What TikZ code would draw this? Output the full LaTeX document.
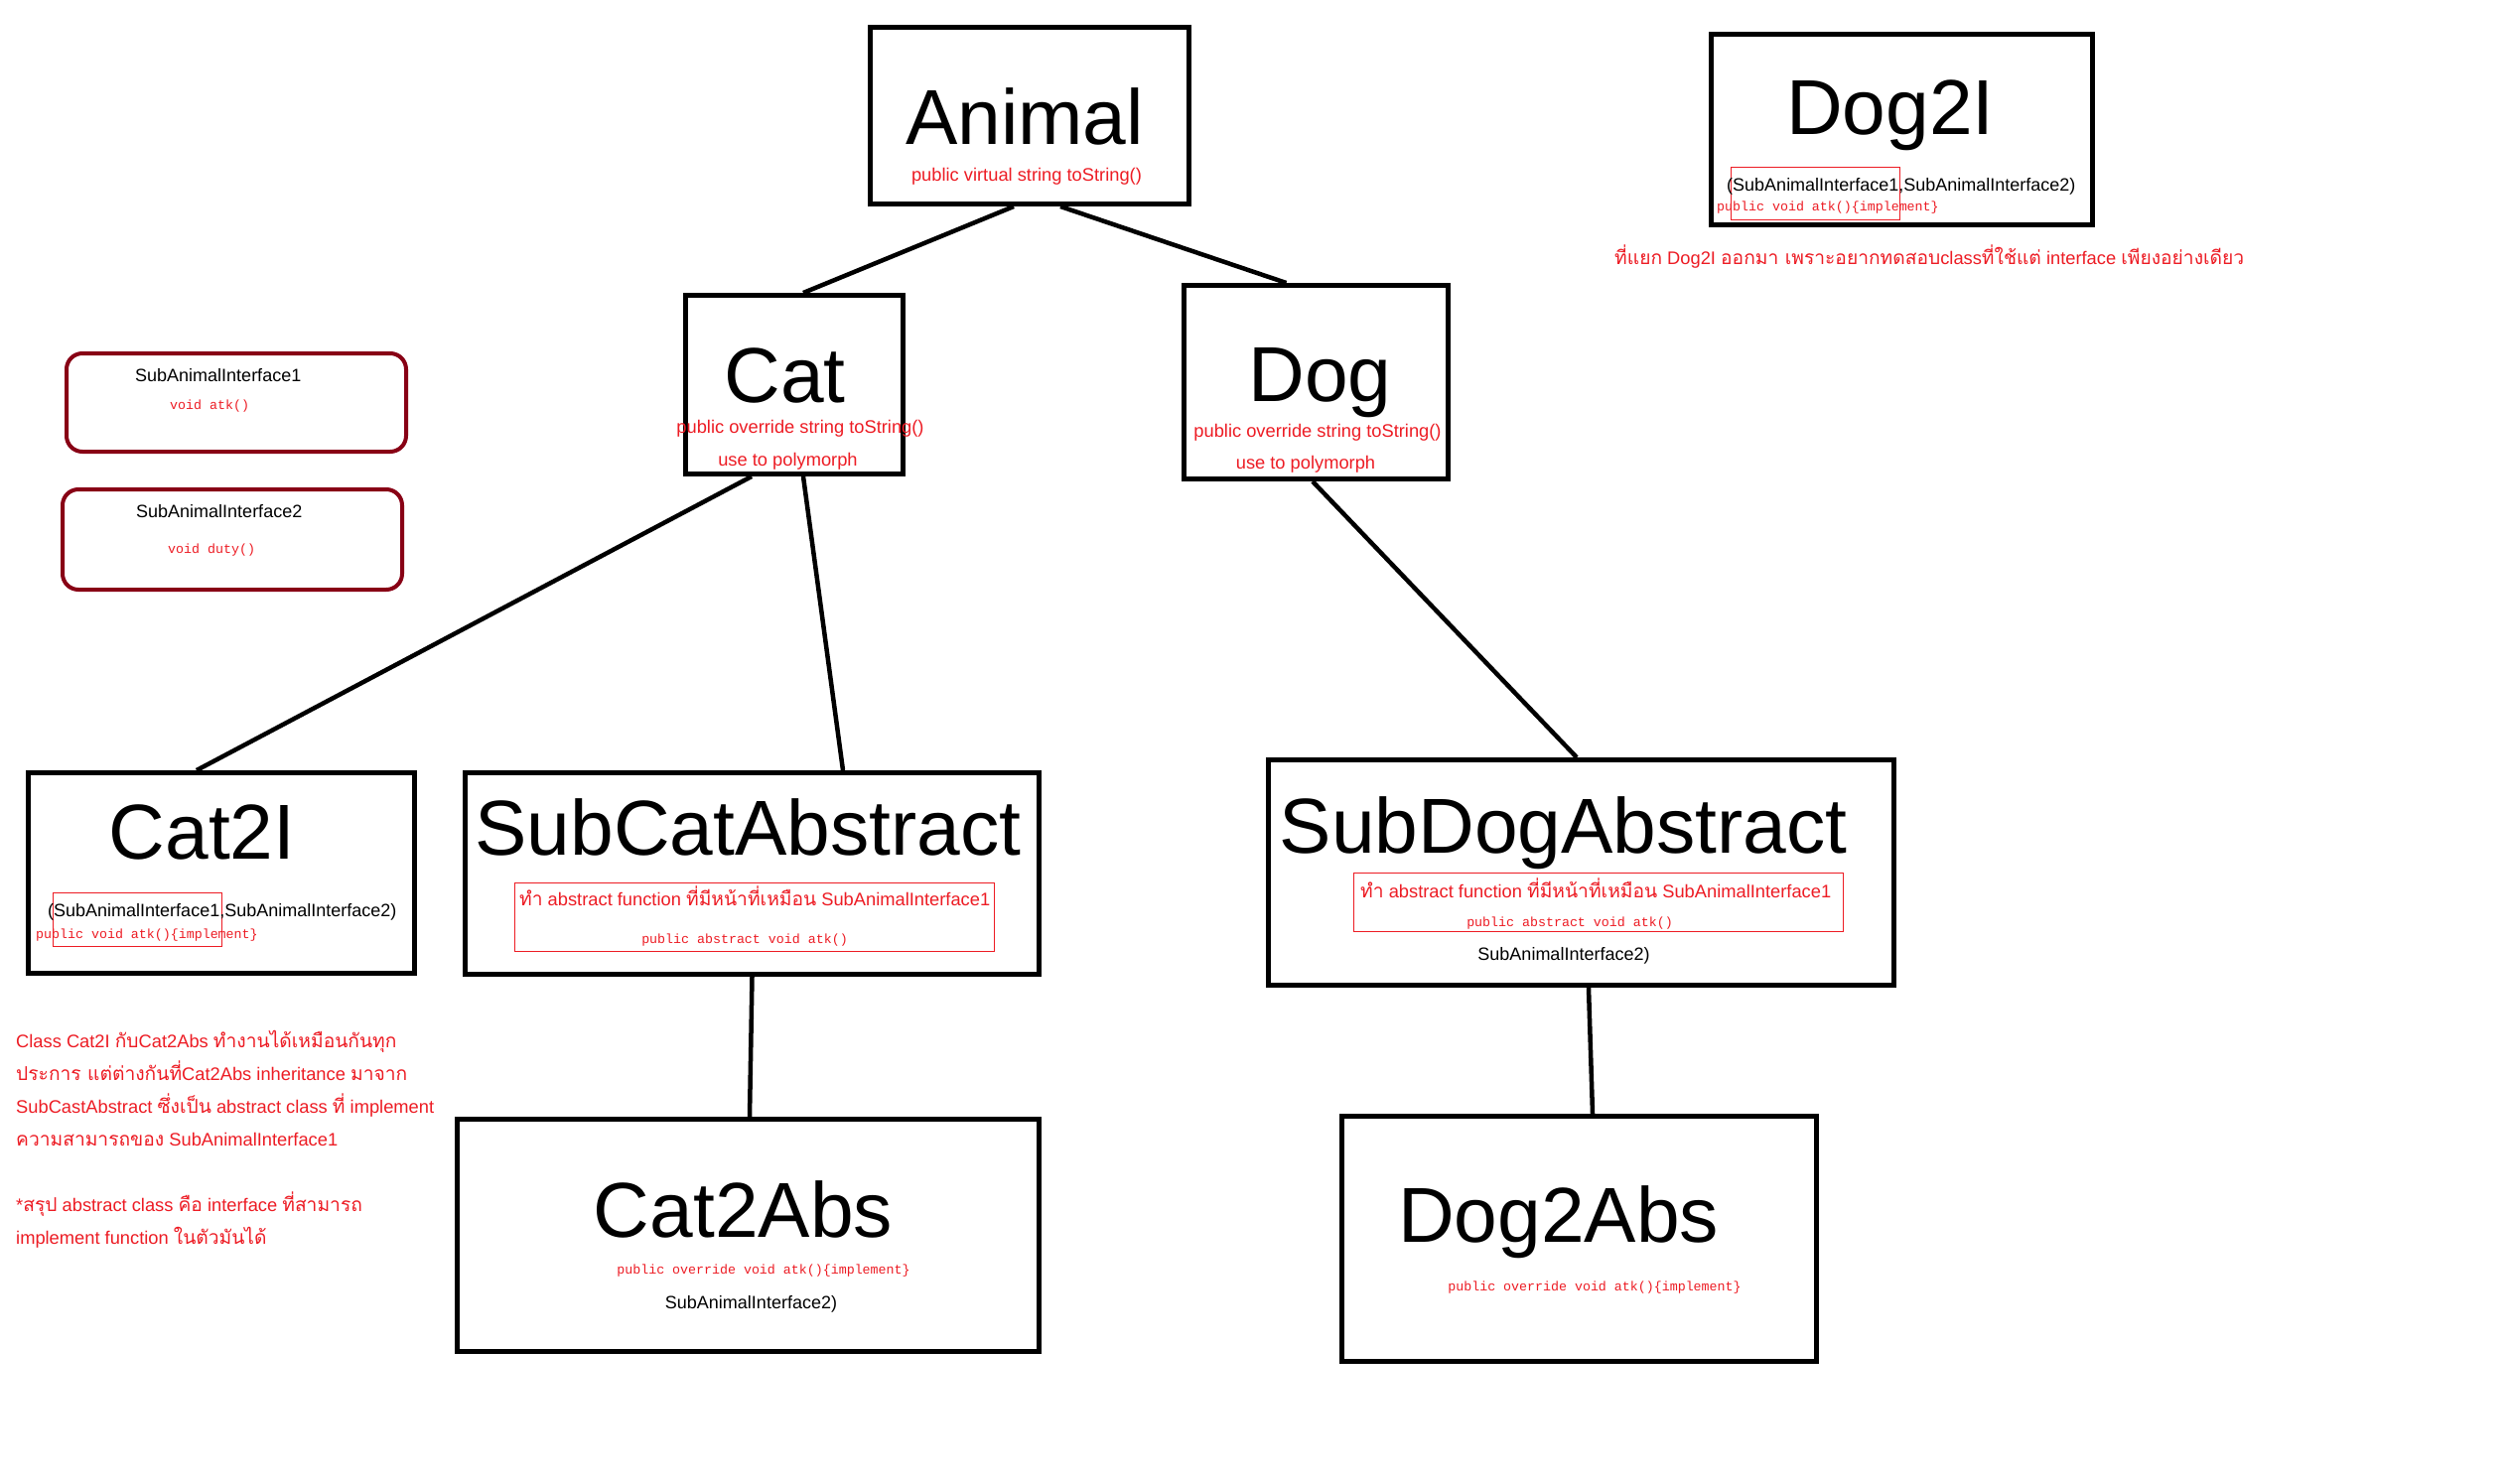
\documentclass[tikz,border=0pt]{standalone}
\usepackage{fontspec}
\setmainfont{Liberation Sans}
\setmonofont{Liberation Mono}
\newfontfamily\thfnt[Script=Thai,Scale=1.05]{Loma}
\definecolor{pred}{HTML}{ED1C24}
\definecolor{dred}{HTML}{880015}
\begin{document}
\begin{tikzpicture}[x=1pt,y=-1pt,
 box/.style={draw,line width=5pt,inner sep=0pt,rectangle},
 ibox/.style={draw=dred,line width=4pt,rounded corners=16pt,inner sep=0pt,rectangle},
 rbox/.style={draw=pred,line width=1pt,inner sep=0pt,rectangle},
 link/.style={line width=4.5pt},
 big/.style={inner sep=0pt,anchor=base,font=\fontsize{78.5}{80}\selectfont},
 sm/.style={inner sep=0pt,anchor=base,font=\fontsize{18}{20}\selectfont},
 rsm/.style={inner sep=0pt,anchor=base,text=pred,font=\fontsize{18.3}{20}\selectfont},
 rsml/.style={rsm,anchor=base west},
 mono/.style={inner sep=0pt,anchor=base,text=pred,font=\ttfamily\fontsize{13.3}{16}\selectfont},
]
\useasboundingbox[fill=white] (0,0) rectangle (2530,1494);

% class boxes
\node[box,minimum width=321pt,minimum height=178pt] (animal) at (1037,116.5) {};
\node[box,minimum width=219pt,minimum height=180pt] (cat) at (800,387.5) {};
\node[box,minimum width=266pt,minimum height=195pt] (dog) at (1325.5,385) {};
\node[box,minimum width=384pt,minimum height=192pt] (dogtwoi) at (1915.5,130.5) {};
\node[box,minimum width=389pt,minimum height=202pt] (cattwoi) at (223,879.5) {};
\node[box,minimum width=578pt,minimum height=203pt] (subcat) at (757.5,880) {};
\node[box,minimum width=586pt,minimum height=234pt] (cattwoabs) at (753.5,1244.5) {};
\node[box,minimum width=630pt,minimum height=227pt] (subdog) at (1592.5,879) {};
\node[box,minimum width=478pt,minimum height=247pt] (dogtwoabs) at (1590.5,1248) {};

% interface boxes
\node[ibox,minimum width=342pt,minimum height=99pt] (ifaceone) at (238,405.5) {};
\node[ibox,minimum width=342pt,minimum height=101pt] (ifacetwo) at (234,543.5) {};

% thin red frames
\node[rbox,minimum width=170pt,minimum height=53pt] (rdog) at (1828,194.5) {};
\node[rbox,minimum width=170pt,minimum height=54pt] (rcat) at (138,926) {};
\node[rbox,minimum width=483pt,minimum height=69pt] (rsubcat) at (759.5,923.5) {};
\node[rbox,minimum width=493pt,minimum height=59pt] (rsubdog) at (1609.5,908.5) {};

% connectors
\draw[link] ([xshift=-16pt]animal.south) -- ([xshift=9pt]cat.north);
\draw[link] ([xshift=31pt]animal.south) -- ([xshift=-30pt]dog.north);
\draw[link] ([xshift=-43pt]cat.south) -- ([xshift=-25pt]cattwoi.north);
\draw[link] ([xshift=9pt]cat.south) -- ([xshift=91.5pt]subcat.north);
\draw[link] ([xshift=-3.5pt]dog.south) -- ([xshift=-4.5pt]subdog.north);
\draw[link] ([xshift=0pt]subcat.south) -- ([xshift=1.5pt]cattwoabs.north);
\draw[link] ([xshift=7.5pt]subdog.south) -- ([xshift=13.5pt]dogtwoabs.north);

% Animal
\node[big] (tanimal) at (1032,145) {Animal};
\node[rsm] (tanimalm) at (1034,182) {public virtual string toString()};
% Cat
\node[big] (tcat) at (790.5,405) {Cat};
\node[rsm] (tcatm) at (806,436) {public override string toString()};
\node[rsm] (tcatp) at (793.5,469) {use to polymorph};
% Dog
\node[big] (tdog) at (1329.5,404) {Dog};
\node[rsm] (tdogm) at (1327,440) {public override string toString()};
\node[rsm] (tdogp) at (1315,472) {use to polymorph};
% Dog2I
\node[big] (tdogtwoi) at (1904,135) {Dog2I};
\node[sm,anchor=base west] (tdogtwoii) at (1739,192) {(SubAnimalInterface1,SubAnimalInterface2)};
\node[mono,anchor=base west] (tdogtwoim) at (1729,212) {public void atk()\{implement\}};
\node[rsml] (tdognote) at (1626,266) {{\thfnt ที่แยก} Dog2I {\thfnt ออกมา เพราะอยากทดสอบ}class{\thfnt ที่ใช้แต่} interface {\thfnt เพียงอย่างเดียว}};
% Interfaces
\node[sm,anchor=base west] (tifaceone) at (136,384) {SubAnimalInterface1};
\node[mono,anchor=base west] (tifaceonem) at (171,412) {void atk()};
\node[sm,anchor=base west] (tifacetwo) at (137,521) {SubAnimalInterface2};
\node[mono,anchor=base west] (tifacetwom) at (169,557) {void duty()};
% Cat2I
\node[big] (tcattwoi) at (203.5,865) {Cat2I};
\node[sm,anchor=base west] (tcattwoii) at (48,923) {(SubAnimalInterface1,SubAnimalInterface2)};
\node[mono,anchor=base west] (tcattwoim) at (36,945) {public void atk()\{implement\}};
% SubCatAbstract
\node[big] (tsubcat) at (753.5,861) {SubCatAbstract};
\node[rsml] (tsubcatt) at (523,912) {{\thfnt ทำ} abstract function {\thfnt ที่มีหน้าที่เหมือน} SubAnimalInterface1};
\node[mono] (tsubcatm) at (750,950) {public abstract void atk()};
% Cat2Abs
\node[big] (tcattwoabs) at (748.5,1246) {Cat2Abs};
\node[mono] (tcattwoabsm) at (769,1283) {public override void atk()\{implement\}};
\node[sm] (tcattwoabsi) at (756.5,1318) {SubAnimalInterface2)};
% SubDogAbstract
\node[big] (tsubdog) at (1574.5,859) {SubDogAbstract};
\node[rsml] (tsubdogt) at (1370,904) {{\thfnt ทำ} abstract function {\thfnt ที่มีหน้าที่เหมือน} SubAnimalInterface1};
\node[mono] (tsubdogm) at (1581,933) {public abstract void atk()};
\node[sm] (tsubdogi) at (1575,967) {SubAnimalInterface2)};
% Dog2Abs
\node[big] (tdogtwoabs) at (1569.5,1251) {Dog2Abs};
\node[mono] (tdogtwoabsm) at (1606,1300) {public override void atk()\{implement\}};
% notes
\node[rsml] (nA) at (16,1055) {Class Cat2I {\thfnt กับ}Cat2Abs {\thfnt ทำงานได้เหมือนกันทุก}};
\node[rsml] (nB) at (16,1088) {{\thfnt ประการ แต่ต่างกันที่}Cat2Abs inheritance {\thfnt มาจาก}};
\node[rsml] (nC) at (16,1121) {SubCastAbstract {\thfnt ซึ่งเป็น} abstract class {\thfnt ที่} implement};
\node[rsml] (nD) at (16,1154) {{\thfnt ความสามารถของ} SubAnimalInterface1};
\node[rsml] (nE) at (16,1220) {*{\thfnt สรุป} abstract class {\thfnt คือ} interface {\thfnt ที่สามารถ}};
\node[rsml] (nF) at (16,1253) {implement function {\thfnt ในตัวมันได้}};
\end{tikzpicture}
\end{document}
